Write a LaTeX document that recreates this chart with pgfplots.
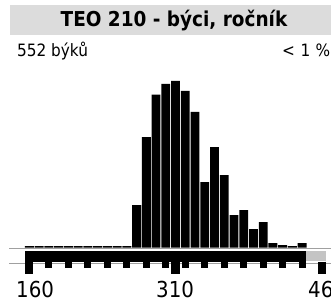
\documentclass[border=0pt]{standalone}
\usepackage{pgfplots}
\pgfplotsset{compat=1.18}
\usepackage{fontspec}
\setmainfont{DejaVu Sans Condensed}
\definecolor{bandgray}{HTML}{DCDCDC}
\definecolor{linegray}{HTML}{A0A0A0}
\definecolor{restgray}{HTML}{C4C4C4}
\begin{document}
\begin{tikzpicture}[x=1pt,y=1pt]
\path (0,0) rectangle (331,300);
\begin{pgfinterruptboundingbox}
\begin{scope}
\clip (0,0) rectangle (331,300);
% title band
\fill[bandgray] (10,265) rectangle (331,295);
\node[anchor=base, inner sep=0pt, font=\fontsize{20.5}{24}\selectfont\bfseries] at (174,273.3) {TEO 210 - býci, ročník};
\node[anchor=base west, inner sep=0pt, font=\fontsize{17}{20}\selectfont] at (17,243.3) {552 býků};
\node[anchor=base west, inner sep=0pt, font=\fontsize{17}{20}\selectfont] at (282,243.3) {<\hspace{5.5pt}1\hspace{5.5pt}\%};
% thin gray lines
\fill[linegray] (9,51) rectangle (331,52);
\fill[linegray] (9,36.2) rectangle (331,37.2);
\begin{axis}[
  at={(0,0)}, anchor=south west,
  scale only axis, width=331pt, height=300pt,
  xmin=129.94, xmax=469.53, ymin=-52.5, ymax=247.5,
  axis lines=none, clip=false,
]
% histogram bars (bins of 10)
\addplot[ybar, bar width=9.2, fill=black, draw=none] coordinates {
 (160,1.3) (170,1.3) (180,1.3) (190,1.3) (200,1.3) (210,1.3) (220,1.3)
 (230,1.3) (240,1.3) (250,1.3) (260,1.3)
 (270,42.5) (280,110.5) (290,152.8) (300,163.5) (310,166.5) (320,156.5)
 (330,135.5) (340,65.5) (350,100.5) (360,72.5) (370,32.5) (380,37.5)
 (390,18.5) (400,25.5) (410,4.5) (420,2.5) (430,1.3) (440,4.5)
};
% range band
\addplot[fill=black, draw=none] coordinates {(155.6,-3.2) (443.9,-3.2) (443.9,-14.2) (155.6,-14.2)} -- cycle;
\addplot[fill=restgray, draw=none] coordinates {(443.9,-3.2) (464.4,-3.2) (464.4,-13.5) (443.9,-13.5)} -- cycle;
% small ticks
\addplot[black, line width=7.3pt, unbounded coords=jump] coordinates {
 (180,-14.2) (180,-20.8) (190,nan)
 (200,-14.2) (200,-20.8) (210,nan)
 (220,-14.2) (220,-20.8) (230,nan)
 (240,-14.2) (240,-20.8) (250,nan)
 (260,-14.2) (260,-20.8) (270,nan)
 (280,-14.2) (280,-20.8) (290,nan)
 (300,-14.2) (300,-20.8) (305,nan)
 (320,-14.2) (320,-20.8) (330,nan)
 (340,-14.2) (340,-20.8) (350,nan)
 (360,-14.2) (360,-20.8) (370,nan)
 (380,-14.2) (380,-20.8) (390,nan)
 (400,-14.2) (400,-20.8) (410,nan)
 (420,-14.2) (420,-20.8) (430,nan)
 (440,-14.2) (440,-20.8)
};
% big ticks
\addplot[black, line width=8.3pt, unbounded coords=jump] coordinates {
 (160,-14.2) (160,-26.8) (200,nan)
 (310,-14.2) (310,-26.8) (350,nan)
 (460,-14.2) (460,-26.8)
};
\end{axis}
% tick labels
\node[anchor=base west, inner sep=0pt, font=\fontsize{22}{26}\selectfont] at (16,2.6) {160};
\node[anchor=base west, inner sep=0pt, font=\fontsize{22}{26}\selectfont] at (156,2.6) {310};
\node[anchor=base west, inner sep=0pt, font=\fontsize{22}{26}\selectfont] at (308,2.6) {460};
\end{scope}
\end{pgfinterruptboundingbox}
\end{tikzpicture}
\end{document}
